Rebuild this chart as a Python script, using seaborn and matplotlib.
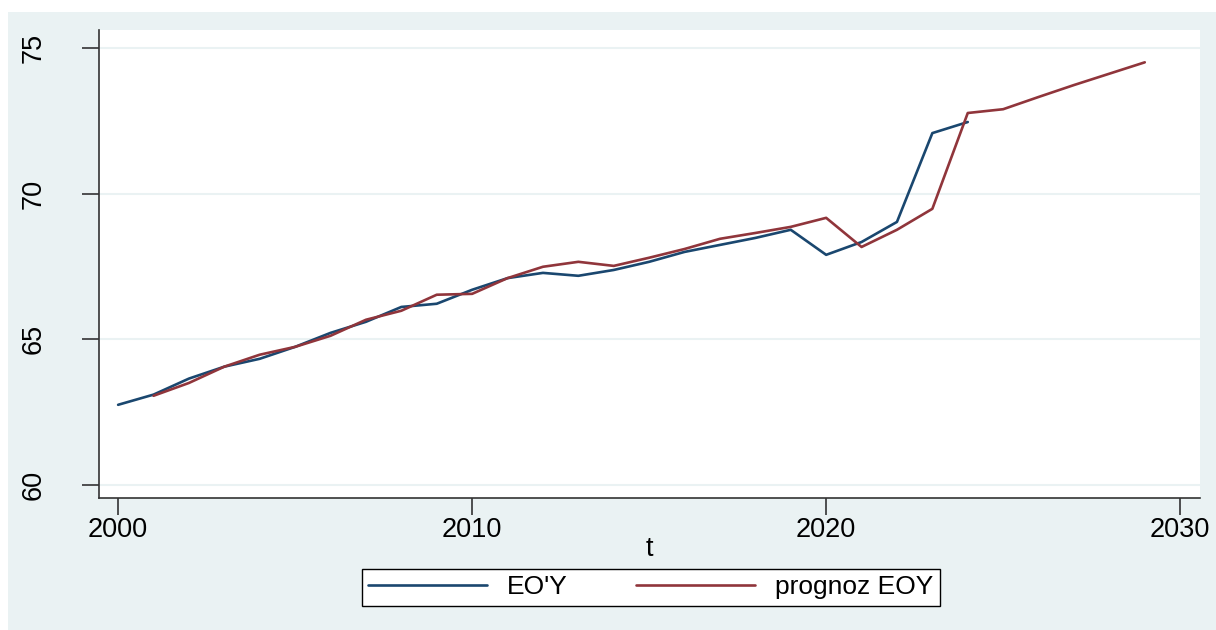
import matplotlib
matplotlib.use('Agg')
import matplotlib.pyplot as plt
import seaborn as sns
import pandas as pd

# datos
anios_eoy = list(range(2000, 2025))
eoy = [62.75, 63.10, 63.65, 64.06, 64.33, 64.74, 65.22, 65.60, 66.11, 66.22,
       66.70, 67.10, 67.28, 67.18, 67.38, 67.66, 68.00, 68.24, 68.48, 68.76,
       67.90, 68.34, 69.03, 72.08, 72.46]

anios_prog = list(range(2001, 2030))
prognoz = [63.06, 63.50, 64.06, 64.47, 64.74, 65.12, 65.67, 65.98, 66.53,
           66.56, 67.10, 67.49, 67.66, 67.52, 67.80, 68.10, 68.45, 68.65,
           68.86, 69.17, 68.17, 68.76, 69.48, 72.77, 72.90, 73.32, 73.73,
           74.12, 74.51]

series = ["EO'Y", "prognoz EOY"]
colores = ['#1A476F', '#90353B']
xticks = [2000, 2010, 2020, 2030]
yticks = [60, 65, 70, 75]

df = pd.concat([
    pd.DataFrame({'t': anios_eoy, 'valor': eoy, 'serie': series[0]}),
    pd.DataFrame({'t': anios_prog, 'valor': prognoz, 'serie': series[1]}),
])

sns.set_theme(style='white')
plt.rcParams['font.family'] = ['Liberation Sans', 'DejaVu Sans']
plt.rcParams['text.color'] = 'black'
plt.rcParams['xtick.color'] = 'black'
plt.rcParams['ytick.color'] = 'black'
plt.rcParams['axes.labelcolor'] = 'black'

fondo = '#EAF2F3'
fig = plt.figure(figsize=(12.16, 6.3), dpi=100, facecolor='white')
fig.patches.append(plt.Rectangle((8 / 1216, 0), 1 - 8 / 1216, 1 - 12 / 630,
                                 transform=fig.transFigure, facecolor=fondo,
                                 edgecolor='none', zorder=-10))
ax = fig.add_axes([99 / 1216, 1 - 498 / 630, (1200 - 99) / 1216, (498 - 30) / 630])
ax.set_zorder(1)
ax.set_facecolor('white')

sns.lineplot(data=df, x='t', y='valor', hue='serie', hue_order=series,
             palette=colores, linewidth=1.9, ax=ax, legend=False)

ax.set_xlim(1999.46, 2030.56)
ax.set_ylim(59.55, 75.62)
ax.set_xticks(xticks)
ax.set_yticks(yticks)
for y in yticks:
    ax.axhline(y, color=fondo, linewidth=1.5, zorder=0)

for lado in ['top', 'right']:
    ax.spines[lado].set_visible(False)
for lado in ['left', 'bottom']:
    ax.spines[lado].set_color('#333333')
    ax.spines[lado].set_linewidth(1.2)

ax.tick_params(axis='x', direction='out', length=12, width=1.2, color='#333333',
               labelsize=19.5, pad=2, bottom=True)
ax.tick_params(axis='y', direction='out', length=12, width=1.2, color='#333333',
               labelsize=19.5, pad=26, left=True)
for lab in ax.get_yticklabels():
    lab.set_rotation(90)
    lab.set_va('center')

ax.set_xlabel('t', fontsize=19.5, labelpad=-5)
ax.set_ylabel('')

handles = [plt.Line2D([], [], color=c, linewidth=1.9) for c in colores]
leg = fig.legend(handles, series, loc='center', bbox_to_anchor=(0.535, 0.0675),
                 ncol=2, fontsize=19, frameon=True, fancybox=False,
                 edgecolor='black', handlelength=4.5, columnspacing=2.6,
                 borderpad=0.25, handletextpad=0.75, borderaxespad=0,
                 framealpha=1)
leg.get_frame().set_linewidth(1.0)
leg.get_frame().set_facecolor('white')

fig.savefig('out.png', dpi=100, facecolor=fig.get_facecolor())
